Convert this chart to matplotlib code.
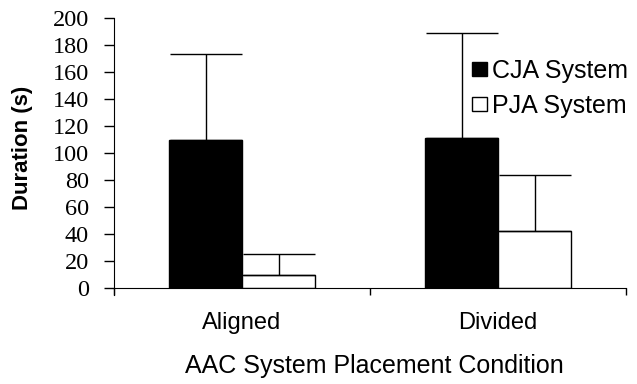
import numpy as np
import matplotlib
matplotlib.use("Agg")
import matplotlib.pyplot as plt
from matplotlib.patches import Patch

# data
conditions = ["Aligned", "Divided"]
cja_mean = [110, 111]
cja_err = [63, 78]
pja_mean = [10, 42]
pja_err = [15, 42]
series_labels = ["CJA System", "PJA System"]
y_ticks = list(range(0, 201, 20))

fig = plt.figure(figsize=(6.37, 3.84), dpi=100)
ax = fig.add_axes([0.179, 0.2500, 0.804, 0.7030])

x = np.arange(len(conditions))
w = 0.285
ax.bar(x - w / 2, cja_mean, w, color="black", edgecolor="black", linewidth=1,
       yerr=[np.zeros(len(cja_err)), cja_err], capsize=26,
       error_kw=dict(elinewidth=1, capthick=1, ecolor="black"))
ax.bar(x + w / 2, pja_mean, w, color="white", edgecolor="black", linewidth=1,
       yerr=[np.zeros(len(pja_err)), pja_err], capsize=26,
       error_kw=dict(elinewidth=1, capthick=1, ecolor="black"))

ax.set_xlim(-0.5, 1.5)
ax.set_ylim(0, 200)
ax.spines["top"].set_visible(False)
ax.spines["right"].set_visible(False)
ax.spines["left"].set_bounds(-5, 200)

ax.set_yticks(y_ticks)
ax.set_yticklabels([str(t) for t in y_ticks], family="Liberation Serif", fontsize=17.5)
ax.tick_params(axis="y", direction="out", length=7, width=1, pad=11)

# boundary ticks as major, labels on minor ticks
ax.set_xticks([-0.5, 0.5, 1.5])
ax.set_xticklabels([])
ax.tick_params(axis="x", which="major", direction="out", length=5, width=1)
ax.set_xticks(x, minor=True)
ax.set_xticklabels(conditions, minor=True, family="Liberation Sans", fontsize=17)
ax.tick_params(axis="x", which="minor", length=0, pad=17)

ax.set_ylabel("Duration (s)", family="Liberation Sans", fontsize=16,
              fontweight="bold")
ax.yaxis.set_label_coords(-0.158, 0.519)
ax.set_xlabel("AAC System Placement Condition", family="Liberation Sans",
              fontsize=18)
ax.xaxis.set_label_coords(0.508, -0.245)

handles = [Patch(facecolor="black", edgecolor="black", label=series_labels[0]),
           Patch(facecolor="white", edgecolor="black", label=series_labels[1])]
ax.legend(handles=handles, loc="upper right", bbox_to_anchor=(1.024, 0.886),
          frameon=False, handlelength=0.6, handleheight=0.45, handletextpad=0.2,
          labelspacing=0.45, borderaxespad=0,
          prop=dict(family="Liberation Sans", size=18))

fig.savefig("out.png", dpi=100)
